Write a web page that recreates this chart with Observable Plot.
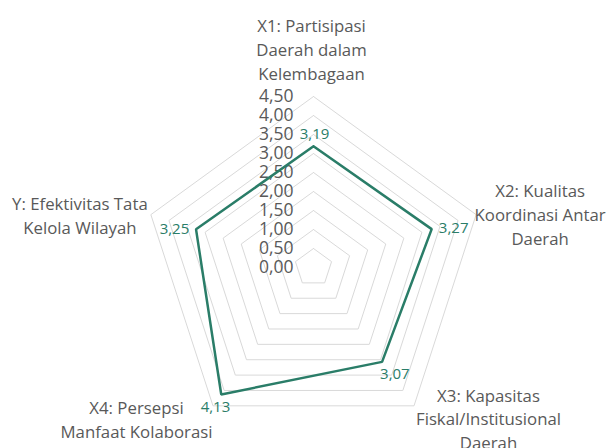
<!DOCTYPE html>
<html>
<head>
<meta charset="utf-8">
<script src="https://cdn.jsdelivr.net/npm/d3@7"></script>
<script src="https://cdn.jsdelivr.net/npm/@observablehq/plot@0.6"></script>
<style>
  html, body { margin: 0; padding: 0; background: #fff; }
  #chart { width: 608px; height: 448px; }
</style>
</head>
<body>
<div id="chart"></div>
<script>
// ---- data ----
const categories = [
  "X1: Partisipasi\nDaerah dalam\nKelembagaan",
  "X2: Kualitas\nKoordinasi Antar\nDaerah",
  "X3: Kapasitas\nFiskal/Institusional\nDaerah",
  "X4: Persepsi\nManfaat Kolaborasi",
  "Y: Efektivitas Tata\nKelola Wilayah"
];
const values = [3.19, 3.27, 3.07, 4.13, 3.25];
const valueLabels = ["3,19", "3,27", "3,07", "4,13", "3,25"];
const ticks = [0, 0.5, 1, 1.5, 2, 2.5, 3, 3.5, 4, 4.5];
const tickLabels = ["0,00", "0,50", "1,00", "1,50", "2,00", "2,50", "3,00", "3,50", "4,00", "4,50"];

// ---- layout (pixels) ----
const W = 608, H = 448;
const CX = 313, CY = 267, UNIT = 38; // px per value unit
const catOffsets = [[-2, -48], [64, -1.5], [74.5, 12], [-76.5, 12.4], [-71, 0]];
const valOffsets = [[1, -12.4], [22, -1], [12.8, 12.6], [-5.8, 12.6], [-21.6, 0]];

const teal = "#2a7d68";
const grey = "#595959";
const n = categories.length;
const ang = i => (i * 2 * Math.PI) / n;
const px = (v, i) => v * Math.sin(ang(i));
const py = (v, i) => v * Math.cos(ang(i));
const maxV = ticks[ticks.length - 1];

// grid rings (closed polygons)
const rings = ticks.filter(t => t > 0).flatMap(t =>
  d3.range(n + 1).map(k => ({ ring: t, x: px(t, k % n), y: py(t, k % n) }))
);
// data polygon (closed)
const poly = d3.range(n + 1).map(k => ({ x: px(values[k % n], k % n), y: py(values[k % n], k % n) }));

const marks = [
  Plot.line(rings, { x: "x", y: "y", z: "ring", stroke: "#d9d9d9", strokeWidth: 1 }),
  Plot.text(ticks, {
    x: () => 0, y: d => d, text: (d, i) => tickLabels[i],
    textAnchor: "end", dx: -20, fontSize: 17.5, fill: grey
  }),
  Plot.line(poly, { x: "x", y: "y", stroke: teal, strokeWidth: 2.5, strokeLinejoin: "miter" })
];

categories.forEach((c, i) => {
  marks.push(Plot.text([c], {
    x: () => px(maxV, i), y: () => py(maxV, i), text: d => d,
    textAnchor: "middle", lineAnchor: "middle", lineHeight: 1.42,
    dx: catOffsets[i][0], dy: catOffsets[i][1], fontSize: 16.8, fill: grey
  }));
  marks.push(Plot.text([valueLabels[i]], {
    x: () => px(values[i], i), y: () => py(values[i], i), text: d => d,
    textAnchor: "middle", dx: valOffsets[i][0], dy: valOffsets[i][1], fontSize: 15, fill: teal
  }));
});

const chart = Plot.plot({
  width: W, height: H,
  marginTop: 0, marginRight: 0, marginBottom: 0, marginLeft: 0,
  x: { type: "linear", domain: [-CX / UNIT, (W - CX) / UNIT], range: [0, W], axis: null },
  y: { type: "linear", domain: [-(H - CY) / UNIT, CY / UNIT], range: [H, 0], axis: null },
  style: { fontFamily: "'Open Sans', sans-serif", background: "#fff", overflow: "visible" },
  marks
});
document.getElementById("chart").appendChild(chart);
</script>
</body>
</html>
